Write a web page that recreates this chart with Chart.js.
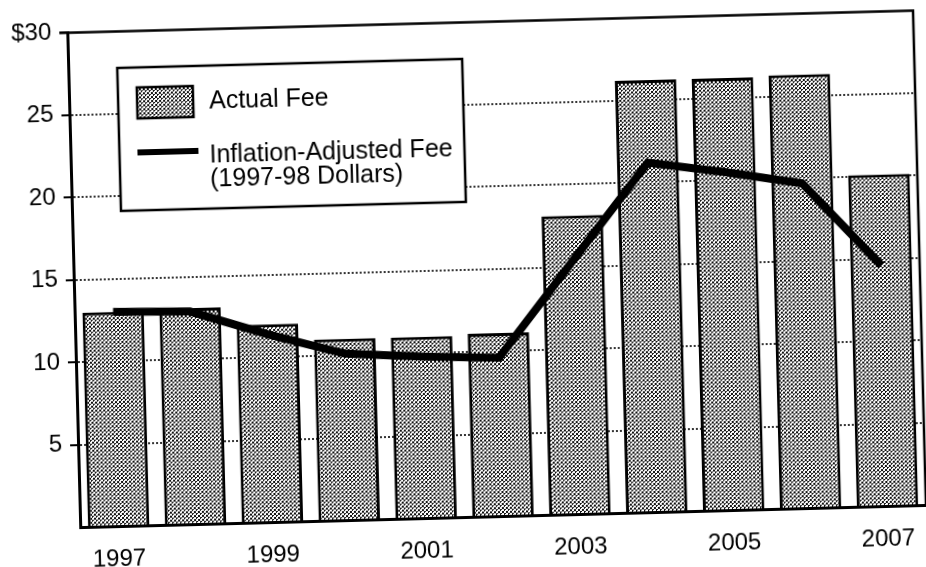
<!DOCTYPE html>
<html>
<head>
  <title>Actual and Inflation-Adjusted Fee</title>
  <style>
    body {
      margin: 0;
      background: #fff;
      overflow: hidden;
    }
    #chart-wrap {
      width: 926px;
      height: 567px;
      position: relative;
    }
    #chart {
      /* the scanned page sits slightly askew */
      transform: rotate(-1.5deg);
      transform-origin: 50% 50%;
    }
  </style>
</head>
<body>
  <div id="chart-wrap">
    <canvas id="chart"></canvas>
  </div>
  <script src="https://cdn.jsdelivr.net/npm/chart.js"></script>
  <script>
    // data
    const years = ["1997", "1998", "1999", "2000", "2001", "2002", "2003", "2004", "2005", "2006", "2007"];
    const actualFee = [13.0, 13.1, 12.0, 11.0, 11.0, 11.1, 18.1, 26.2, 26.2, 26.3, 20.1];
    const adjustedFee = [13.0, 12.9, 11.4, 10.1, 9.8, 9.6, 15.4, 21.2, 20.5, 19.7, 14.6];
    const yTickValues = [0, 5, 10, 15, 20, 25, 30];
    const yTickLabels = ["", "5", "10", "15", "20", "25", "$30"];
    const shownYears = ["1997", "1999", "2001", "2003", "2005", "2007"];
    const legendActual = ["Actual Fee"];
    const legendAdjusted = ["Inflation-Adjusted Fee", "(1997-98 Dollars)"];

    const FONT = "'Liberation Sans', Arial, sans-serif";
    const canvas = document.getElementById("chart");
    const ctx = canvas.getContext("2d");

    // halftone dot fill like the printed bars
    function makePattern() {
      const tile = document.createElement("canvas");
      tile.width = 4;
      tile.height = 4;
      const g = tile.getContext("2d");
      g.fillStyle = "#fff";
      g.fillRect(0, 0, 4, 4);
      g.fillStyle = "#111";
      g.fillRect(0, 0, 2, 2);
      g.fillRect(2, 2, 2, 1);
      g.fillRect(2, 3, 1, 1);
      return ctx.createPattern(tile, "repeat");
    }
    const dots = makePattern();

    // frame round the plot area
    const framePlugin = {
      id: "frame",
      afterDatasetsDraw(chart) {
        const a = chart.chartArea;
        const c = chart.ctx;
        c.save();
        c.strokeStyle = "#000";
        c.lineWidth = 2.5;
        c.beginPath();
        c.moveTo(a.left - 8, a.top);
        c.lineTo(a.right, a.top);
        c.lineTo(a.right, a.bottom);
        c.stroke();
        c.restore();
      }
    };

    // boxed legend inside the plot
    const legendPlugin = {
      id: "boxLegend",
      afterDraw(chart) {
        const c = chart.ctx;
        c.save();
        c.fillStyle = "#fff";
        c.fillRect(123, 59, 345, 143);
        c.strokeStyle = "#000";
        c.lineWidth = 2.5;
        c.strokeRect(123, 59, 345, 143);

        c.fillStyle = dots;
        c.fillRect(142, 79, 56, 31);
        c.strokeRect(142, 79, 56, 31);

        c.lineWidth = 6;
        c.beginPath();
        c.moveTo(141, 144);
        c.lineTo(202, 144);
        c.stroke();

        c.fillStyle = "#000";
        c.font = "25px " + FONT;
        c.textBaseline = "alphabetic";
        c.fillText(legendActual[0], 214, 102);
        legendAdjusted.forEach((t, i) => c.fillText(t, 213, 156 + i * 24));
        c.restore();
      }
    };

    new Chart(canvas, {
      data: {
        labels: years,
        datasets: [{
          type: "line",
          label: legendAdjusted.join(" "),
          data: adjustedFee,
          borderColor: "#000",
          borderWidth: 8,
          pointRadius: 0,
          tension: 0,
          borderCapStyle: "butt",
          borderJoinStyle: "miter",
          order: 0
        }, {
          type: "bar",
          label: legendActual[0],
          data: actualFee,
          backgroundColor: dots,
          borderColor: "#000",
          borderWidth: 3,
          barPercentage: 0.8,
          categoryPercentage: 1,
          order: 1
        }]
      },
      options: {
        responsive: true,
        maintainAspectRatio: false,
        animation: false,
        layout: {
          padding: { left: 0, top: 20, right: 6, bottom: 0 }
        },
        plugins: {
          legend: { display: false },
          tooltip: { enabled: false }
        },
        scales: {
          x: {
            grid: { display: false },
            border: { display: true, color: "#000", width: 3 },
            ticks: {
              autoSkip: false,
              maxRotation: 0,
              padding: 11,
              color: "#000",
              font: { family: FONT, size: 24 },
              callback: function(value, index) {
                const y = this.getLabelForValue(value);
                return shownYears.includes(y) ? y : "";
              }
            },
            afterFit(scale) {
              scale.height = 50;
            }
          },
          y: {
            min: 0,
            max: 30,
            afterBuildTicks(scale) {
              scale.ticks = yTickValues.map(v => ({ value: v }));
            },
            grid: {
              color: ctx => (ctx.tick && (ctx.tick.value === 0 || ctx.tick.value === 30)) ? "rgba(0,0,0,0)" : "#333",
              lineWidth: 2,
              tickColor: ctx => (ctx.tick && ctx.tick.value === 0) ? "rgba(0,0,0,0)" : "#000",
              tickWidth: 2,
              tickLength: 8,
              tickBorderDash: []
            },
            // in v4 border.dash styles the grid lines
            border: { display: true, color: "#000", width: 3, dash: [2, 2] },
            ticks: {
              padding: 8,
              color: "#000",
              font: { family: FONT, size: 24 },
              callback: (value, index) => yTickLabels[index]
            },
            afterFit(scale) {
              scale.width = 74;
            }
          }
        }
      },
      plugins: [framePlugin, legendPlugin]
    });
  </script>
</body>
</html>
